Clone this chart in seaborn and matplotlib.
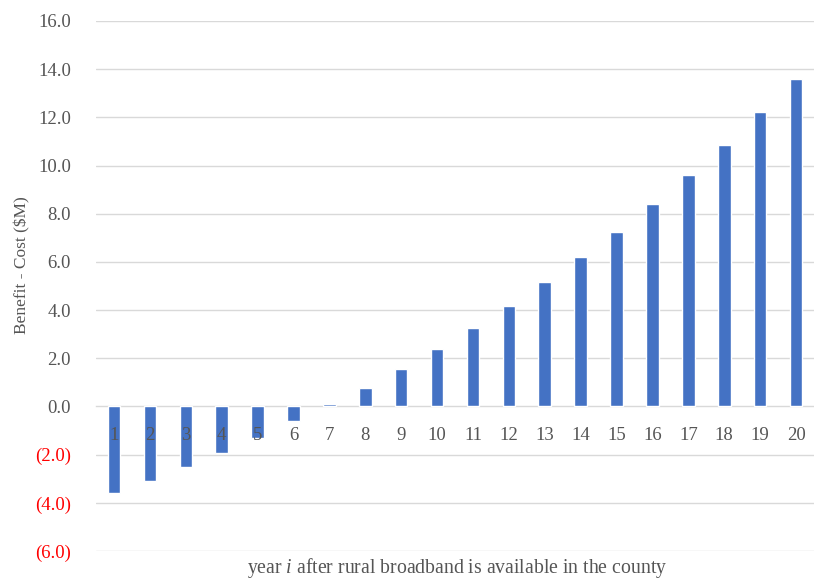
import matplotlib
matplotlib.use("Agg")
import matplotlib.pyplot as plt
import seaborn as sns
import pandas as pd
import numpy as np

# Net benefit (benefit minus cost, $M) for each year after broadband arrives
years = [str(i) for i in range(1, 21)]
net_benefit = [-3.6, -3.1, -2.5, -1.95, -1.3, -0.6, 0.1, 0.78, 1.56, 2.4,
               3.25, 4.15, 5.17, 6.2, 7.25, 8.42, 9.6, 10.85, 12.22, 13.6]
y_ticks = [-6, -4, -2, 0, 2, 4, 6, 8, 10, 12, 14, 16]

x_label = "year $i$ after rural broadband is available in the county"
y_label = "Benefit - Cost ($M)"

sns.set_style("white")
plt.rcParams["font.family"] = ["Liberation Serif", "DejaVu Serif"]
plt.rcParams["mathtext.fontset"] = "custom"
plt.rcParams["mathtext.it"] = "Liberation Serif:italic"
plt.rcParams["mathtext.rm"] = "Liberation Serif"

TEXT = "#555555"
GRID = "#D9D9D9"
BAR = "#4472C4"

df = pd.DataFrame({"year": years, "value": net_benefit})

fig = plt.figure(figsize=(8.14, 5.80), dpi=100)
ax = fig.add_axes([0.118, 0.05, 0.882, 0.9138])

sns.barplot(data=df, x="year", y="value", color=BAR, saturation=1,
            width=0.35, ax=ax, zorder=1)

ax.set_ylim(-6, 16)
ax.set_xlim(-0.5, 19.36)

# horizontal gridlines behind the bars
for t in y_ticks:
    if t != 0:
        ax.axhline(t, color=GRID, lw=1.0, zorder=0.5)

ax.set_yticks(y_ticks)
ax.set_yticklabels([f"{t:.1f}" if t >= 0 else f"({abs(t):.1f})" for t in y_ticks])
for lab, t in zip(ax.get_yticklabels(), y_ticks):
    lab.set_color("#FF0000" if t < 0 else TEXT)
ax.tick_params(axis="y", length=0, pad=18, labelsize=13.5)

# category axis sits on the zero line
for s in ["top", "right", "left"]:
    ax.spines[s].set_visible(False)
ax.spines["bottom"].set_position(("data", 0))
ax.spines["bottom"].set_color(GRID)
ax.spines["bottom"].set_linewidth(1.0)
ax.spines["bottom"].set_zorder(0.6)
ax.set_xticks(np.arange(-0.5, len(years), 1.0), minor=True)
ax.tick_params(axis="x", which="minor", length=4, width=1, color=GRID, direction="out")
ax.tick_params(axis="x", which="major", length=0, pad=15, labelsize=13.5, labelcolor=TEXT)
ax.set_axisbelow(False)

ax.set_xlabel(x_label, fontsize=14.2, color=TEXT, va="center")
ax.xaxis.set_label_coords(0.503, -0.032)
ax.set_ylabel(y_label, fontsize=12.5, color=TEXT, va="center")
ax.yaxis.set_label_coords(-0.103, 0.54)

fig.savefig("out.png", dpi=100)
